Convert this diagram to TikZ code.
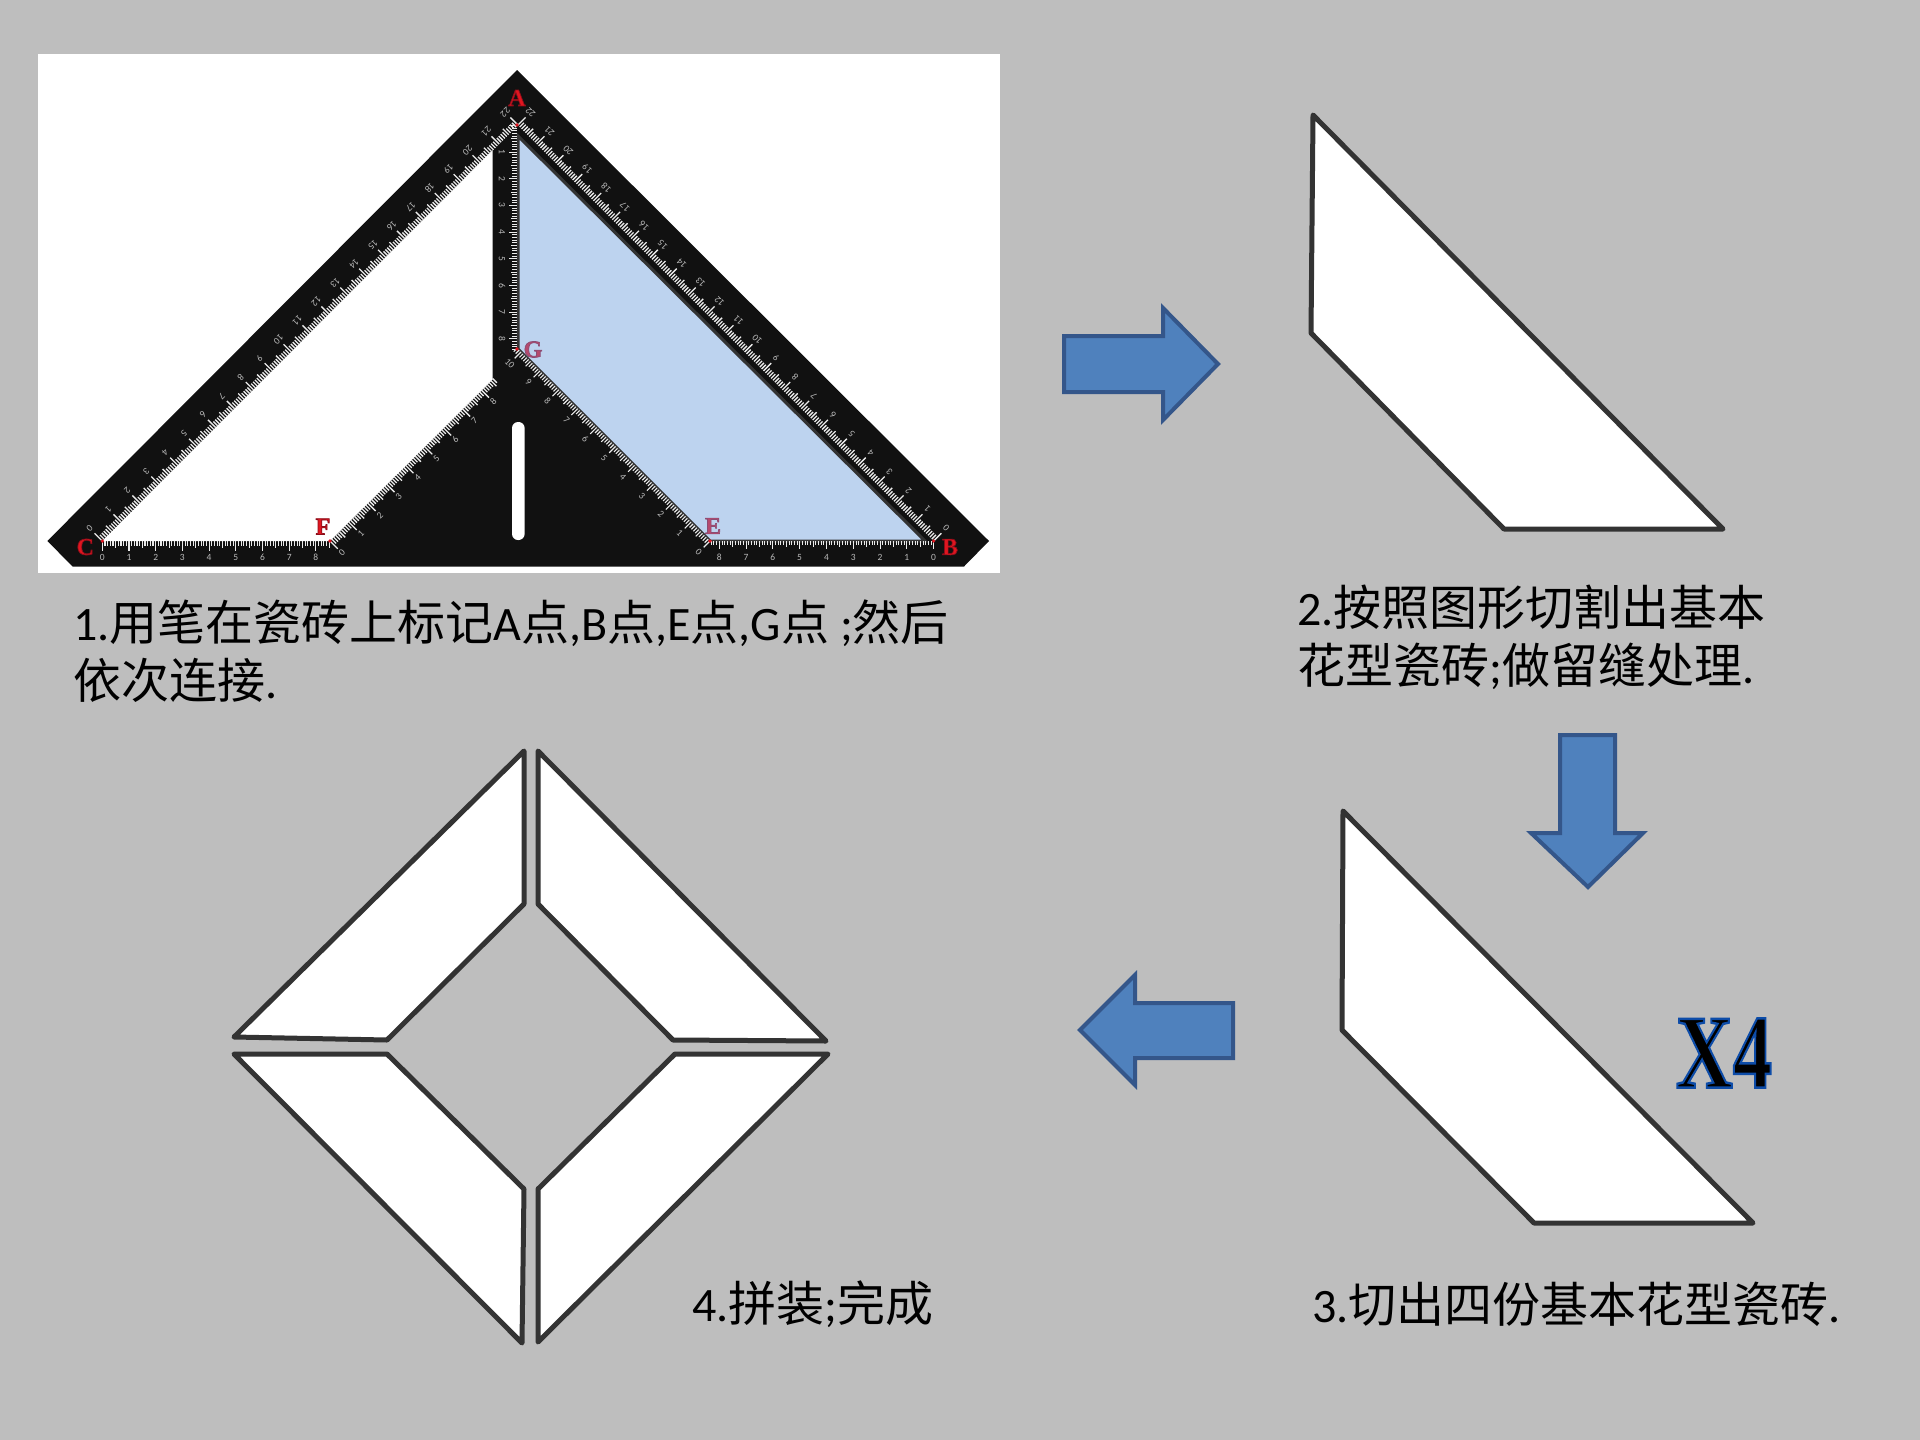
\documentclass[tikz,border=0pt]{standalone}
\usepackage{fontspec}
\setmainfont{Carlito}
\newfontfamily\cjk{Noto Sans CJK SC}
\newfontfamily\slabfont{Liberation Serif}
\newcommand{\zh}[1]{{\cjk #1}}
\definecolor{pagegray}{HTML}{BEBEBE}
\definecolor{pieceline}{HTML}{333333}
\definecolor{rulerblack}{HTML}{111111}
\definecolor{markblue}{HTML}{BDD3EF}
\definecolor{arrowblue}{HTML}{4F81BD}
\definecolor{arrowline}{HTML}{34568A}
\definecolor{markred}{HTML}{E01620}
\definecolor{markrose}{HTML}{B54A6E}
\newcommand{\markedge}[1]{\special{pdf:code 2 Tr 0.7 w #1 RG}}
\newcommand{\markplain}{\special{pdf:code 0 Tr 1 w}}
\begin{document}
\begin{tikzpicture}[
    x=1pt, y=-1pt,
    caption/.style={anchor=west, align=left, text=black, inner sep=0pt, font=\fontsize{48}{58}\selectfont},
    piece/.style={draw=pieceline, fill=white, line width=5pt, line join=round},
    blockarrow/.style={draw=arrowline, fill=arrowblue, line width=4pt, line join=miter},
    pointmark/.style={inner sep=0pt, font=\slabfont\bfseries\fontsize{24}{24}\selectfont},
    ticknum/.style={inner sep=0pt, text=white!72!black, font=\fontsize{9.5}{9.5}\selectfont},
    rulertick/.style={white!92!black}
]
\useasboundingbox (0,0) rectangle (1920,1440);
\fill[pagegray] (0,0) rectangle (1920,1440);

% step 1: the ruler
\fill[white] (38,54) rectangle (1000,573);
\fill[rulerblack] (517,70) -- (989,541) -- (964,566.5) -- (72.7,566.5) -- (47.3,541) -- cycle;
\fill[white] (102.3,541) -- (492.7,150) -- (492.7,379.5) -- (330,541) -- cycle;
\fill[white, rounded corners=6pt] (512,422) rectangle (524.6,540);
\draw[fill=markblue, draw=pieceline, line width=3pt] (518,136) -- (518,349) -- (710,541) -- (925,541) -- cycle;

% rulers: start, one unit, outward normal, ticks, first and last number, number angle, tick size and width, number distance
\foreach \sx/\sy/\ux/\uy/\nx/\ny/\nt/\nfrom/\nto/\rot/\tl/\tw/\nd in {
    102.3/541/18.9/-18.9/-0.707/-0.707/220/0/22/225/1.1/1.3/18,
    933.6/541/-18.9/-18.9/0.707/-0.707/220/0/22/135/1.1/1.3/18,
    102.3/541/26.7/0/0/1/85/0/8/0/0.95/1.1/16,
    330/541/18.9/-18.9/0.707/0.707/86/0/8/45/1.1/1.3/17,
    710/541/-18.9/-18.9/-0.707/0.707/102/0/10/-45/0.9/1.1/16,
    933.6/541/-26.8/0/0/1/83/0/8/0/0.8/0.7/16,
    517/125.3/0/26.7/-1/0/84/1/8/-90/0.85/0.9/15} {
    \foreach \t in {0,...,\nt} {
        \pgfmathsetmacro\len{\tl*(mod(\t,10)==0 ? 10 : (mod(\t,5)==0 ? 7.5 : 5.5))}
        \draw[rulertick, line width=\tw pt] ({\sx+\t*\ux/10},{\sy+\t*\uy/10}) -- ++({\len*\nx},{\len*\ny});
    }
    \foreach \i in {\nfrom,...,\nto} {
        \node[ticknum, rotate=\rot] at ({\sx+\i*\ux+\nd*\nx},{\sy+\i*\uy+\nd*\ny}) {\i};
    }
}
\foreach \mx/\my in {102.3/541, 330/541, 517/125, 710/541, 517/349, 933.6/541} {
    \fill[markred] (\mx,\my) circle (1.8pt);
}
\node (ptA) [pointmark, text=markred] at (517,98) {\markedge{0.55 0.05 0.1}A\markplain};
\node (ptB) [pointmark, text=markred] at (950,547) {\markedge{0.55 0.05 0.1}B\markplain};
\node (ptC) [pointmark, text=markred] at (85.3,547) {\markedge{0.55 0.05 0.1}C\markplain};
\node (ptF) [pointmark, text=markred] at (323,526.6) {\markedge{0.55 0.05 0.1}F\markplain};
\node (ptE) [pointmark, text=markrose] at (713,526) {\markedge{0.55 0.3 0.45}E\markplain};
\node (ptG) [pointmark, text=markrose] at (533,349.5) {\markedge{0.55 0.3 0.45}G\markplain};

% step 2 and 3: the cut piece
\draw[piece] (1313,115) -- (1311,333) -- (1504,529) -- (1723,529) -- cycle;
\draw[piece] (1343,811) -- (1342,1030) -- (1534,1223) -- (1753,1223) -- cycle;

% step 4: four pieces
\draw[piece] (524,751) -- (524,904) -- (387,1040) -- (234,1037) -- cycle;
\draw[piece] (538,751) -- (538,904) -- (673,1040) -- (826,1041) -- cycle;
\draw[piece] (234,1054) -- (387,1054) -- (524,1189) -- (522,1343) -- cycle;
\draw[piece] (828,1054) -- (675,1054) -- (538,1189) -- (538,1342) -- cycle;

% arrows
\draw[blockarrow] (1064,336) -- (1163,336) -- (1163,308) -- (1218,364) -- (1163,420) -- (1163,392) -- (1064,392) -- cycle;
\draw[blockarrow] (1560,735) -- (1615,735) -- (1615,833) -- (1643,833) -- (1588,887) -- (1531,833) -- (1560,833) -- cycle;
\draw[blockarrow] (1233,1003) -- (1135,1003) -- (1135,975) -- (1080,1030) -- (1135,1085) -- (1135,1058) -- (1233,1058) -- cycle;

% captions
\node (stepone) [caption] at (73,651) {1.\zh{用笔在瓷砖上标记}A\zh{点},B\zh{点},E\zh{点},G\zh{点} ;\zh{然后}\\\zh{依次连接}.};
\node (steptwo) [caption] at (1297,637) {2.\zh{按照图形切割出基本}\\\zh{花型瓷砖};\zh{做留缝处理}.};
\node (stepthree) [caption] at (1312,1304) {3.\zh{切出四份基本花型瓷砖}.};
\node (stepfour) [caption] at (692,1304) {4.\zh{拼装};\zh{完成}};

\node (times) [inner sep=0pt, text=black] at (1724,1053) {\scalebox{.75}[1]{\slabfont\bfseries\fontsize{105}{105}\selectfont\special{pdf:code 2 Tr 2.5 w 0.05 0.3 0.66 RG}X4\special{pdf:code 0 Tr 1 w}}};
\end{tikzpicture}
\end{document}
